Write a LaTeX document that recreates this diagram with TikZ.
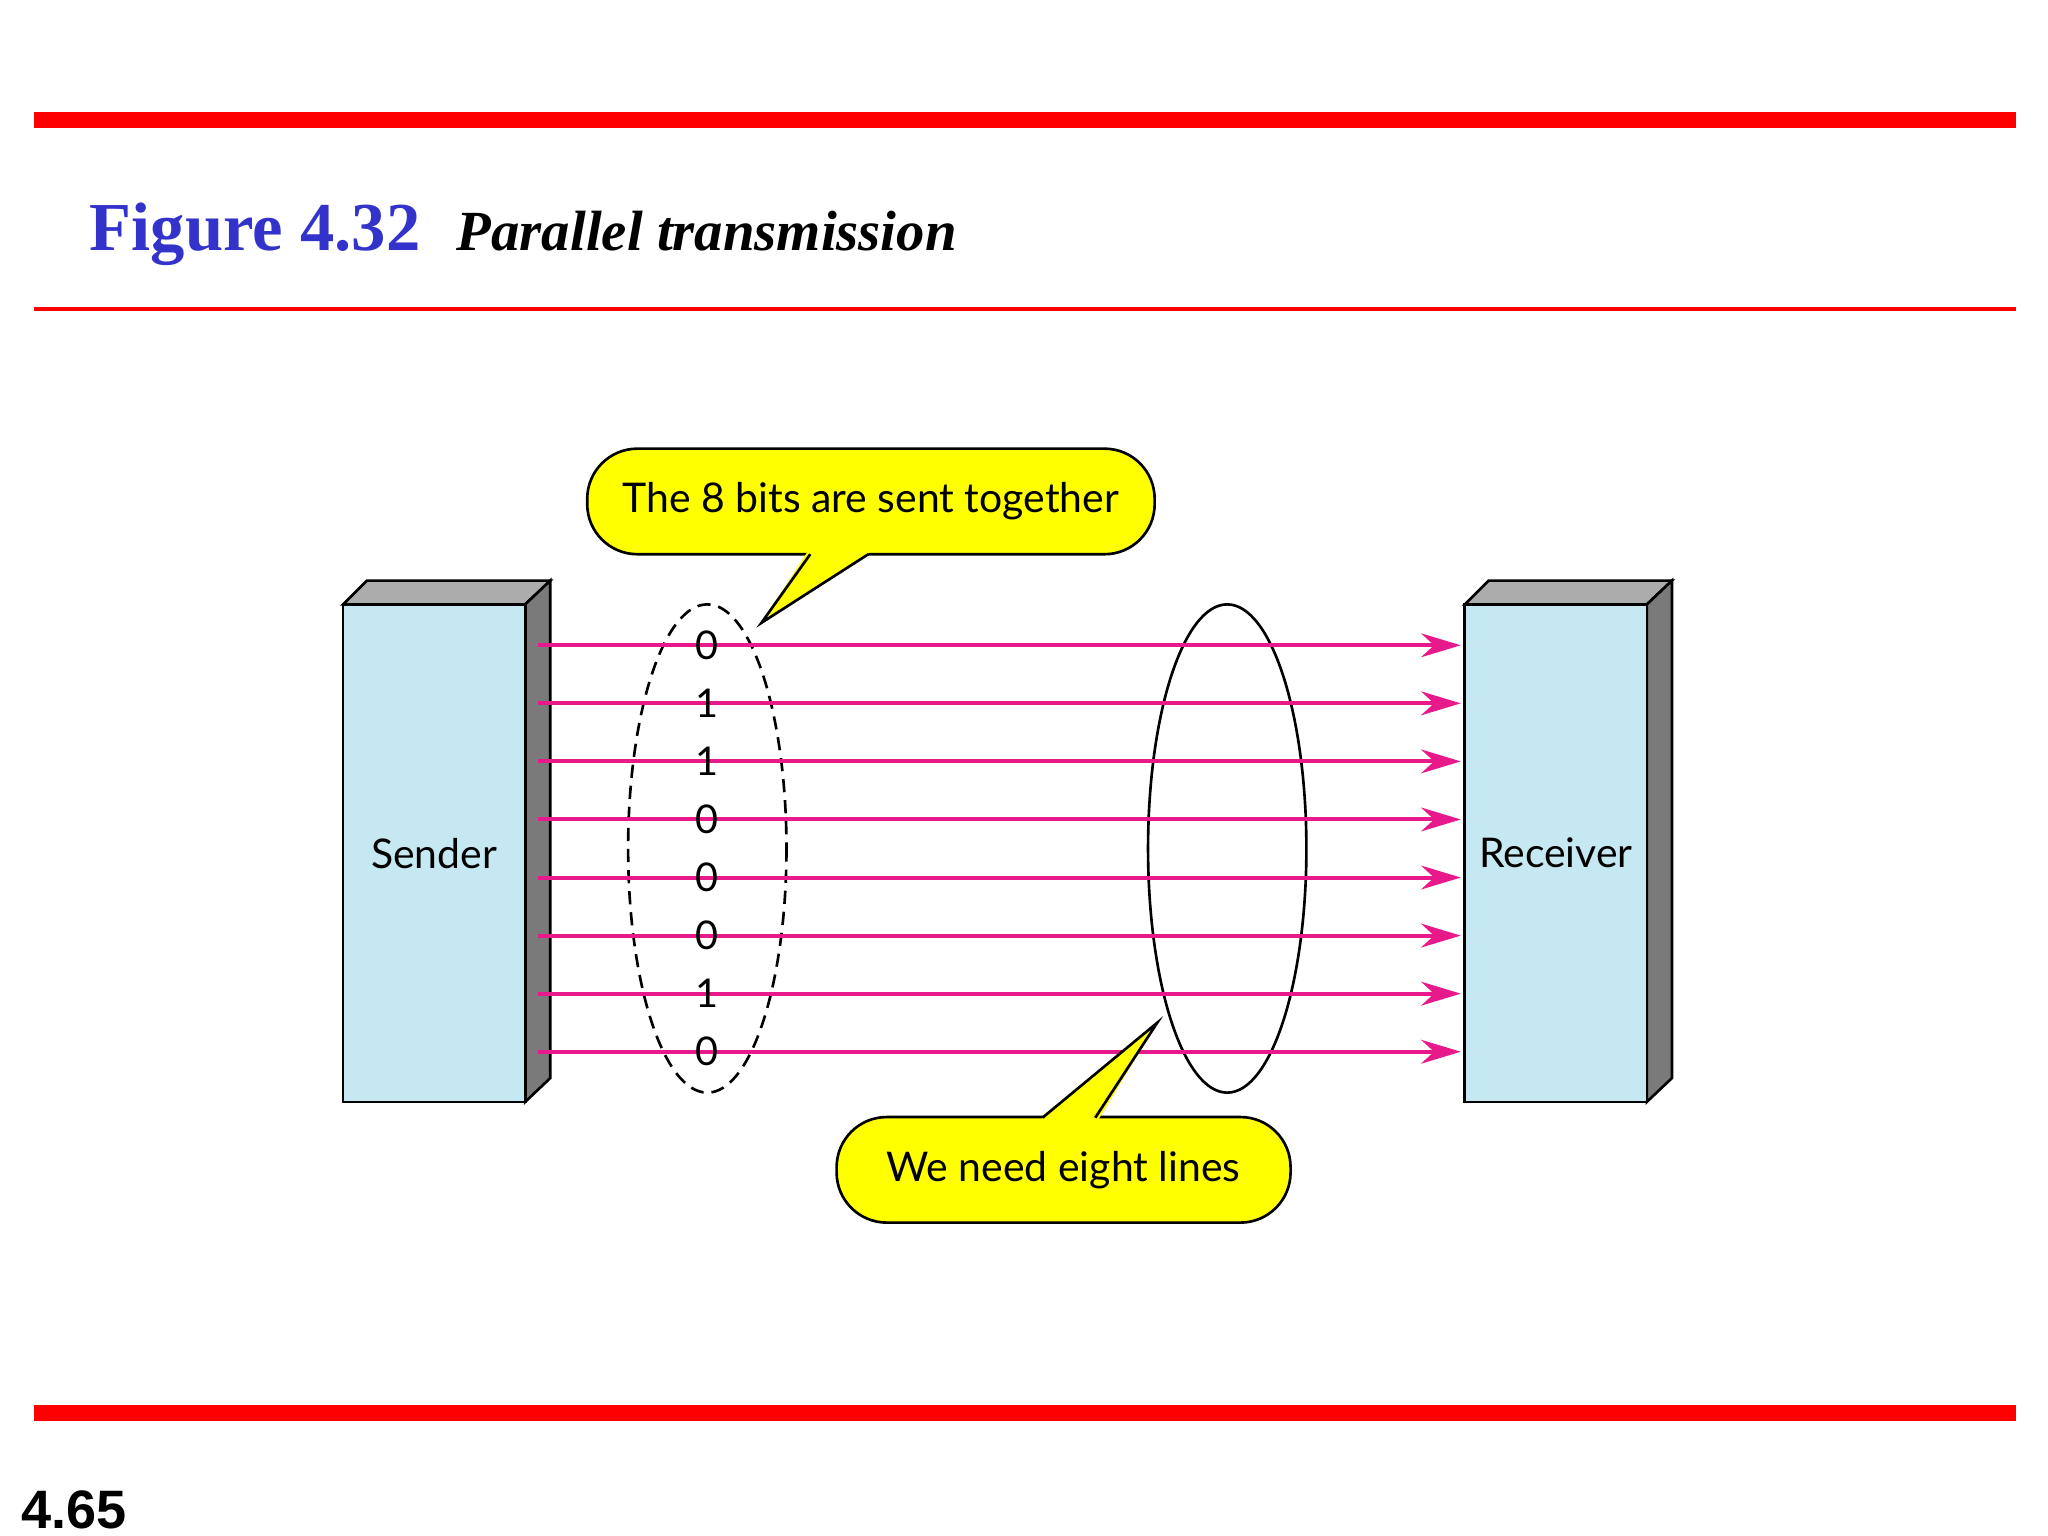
\documentclass[tikz,border=0pt]{standalone}
\usepackage{fontspec}
\setmainfont{Liberation Serif}
\newfontfamily\calfont{Lato}
\newfontfamily\numfont{Liberation Sans}
\usetikzlibrary{arrows.meta}
\definecolor{boxblue}{HTML}{C5E8F3}
\definecolor{pink}{HTML}{E8198B}
\definecolor{titleblue}{HTML}{3333CC}
\definecolor{callyellow}{HTML}{FFFF00}
\begin{document}
\begin{tikzpicture}[x=1pt,y=-1pt,
  wire/.style={pink,line width=3pt,-{Stealth[length=30pt,width=18pt]}},
  bit/.style={font=\calfont\fontsize{30}{30}\selectfont,inner sep=0pt},
  calloutbox/.style={draw=black,line width=2pt,fill=callyellow,rounded corners=38pt,minimum height=80pt,font=\calfont\fontsize{31}{36}\selectfont},
  front/.style={draw=black,line width=2pt,fill=boxblue},
  sideface/.style={draw=black,line width=2pt,fill=gray!70!black!80},
  topface/.style={draw=black,line width=2pt,fill=gray!65}]
\useasboundingbox (0,0) rectangle (1552,1164);
\fill[white] (0,0) rectangle (1552,1164);
% rules
\fill[red] (26,85) rectangle (1528,97);
\fill[red] (26,233) rectangle (1528,236);
\fill[red] (26,1065) rectangle (1528,1077);
\node[anchor=base west,inner sep=0pt,text=titleblue,font=\bfseries\fontsize{52}{56}\selectfont] (fig) at (68,190) {Figure 4.32};
\node[anchor=base west,inner sep=0pt,font=\bfseries\itshape\fontsize{43}{48}\selectfont] (ttl) at (346,190) {Parallel transmission};
\node[anchor=base west,inner sep=0pt,font=\numfont\bfseries\fontsize{41}{44}\selectfont] (pg) at (16,1158) {4.65};
% sender
\draw[topface] (260,458) -- (278,440) -- (417,440) -- (398,458) -- cycle;
\draw[sideface] (398,458) -- (417,440) -- (417,817) -- (398,835) -- cycle;
\node[front,minimum width=138pt,minimum height=377pt,font=\calfont\fontsize{31}{34}\selectfont,inner sep=0pt] (snd) at (329,646.5) {Sender};
% receiver
\draw[topface] (1110,458) -- (1128,440) -- (1267,440) -- (1248,458) -- cycle;
\draw[sideface] (1248,458) -- (1267,440) -- (1267,817) -- (1248,835) -- cycle;
\node[front,minimum width=138pt,minimum height=377pt,font=\calfont\fontsize{31}{34}\selectfont,inner sep=0pt] (rcv) at (1179,646.5) {Receiver};
% ellipses
\draw[line width=2pt,dash pattern=on 10pt off 6pt] (536,643) ellipse [x radius=60,y radius=185];
\draw[line width=2pt] (930,643) ellipse [x radius=60,y radius=185];
% wires and bits
\foreach \y/\b [count=\i] in {489/0,533/1,577/1,621/0,665/0,709/0,753/1,797/0}{
  \coordinate (s\i) at (snd.east |- 0,\y);
  \coordinate (r\i) at (rcv.west |- 0,\y);
  \draw[wire] ([xshift=9pt]s\i) -- ([xshift=-2pt]r\i);
  \node[bit] (b\i) at (536,\y) {\b};
}
% callouts
\node[calloutbox,minimum width=430pt] (c1) at (660,380) {The 8 bits are sent together};
\fill[callyellow] (612,418) -- (577,472) -- (660,418) -- cycle;
\draw[line width=2pt] (614,420) -- (577,472) -- (658,420);
\node[calloutbox,minimum width=344pt] (c2) at (806,886.5) {We need eight lines};
\fill[callyellow] (788,849) -- (877,775) -- (832,849) -- cycle;
\draw[line width=2pt] (790,847) -- (877,775) -- (830,847);
\end{tikzpicture}
\end{document}
